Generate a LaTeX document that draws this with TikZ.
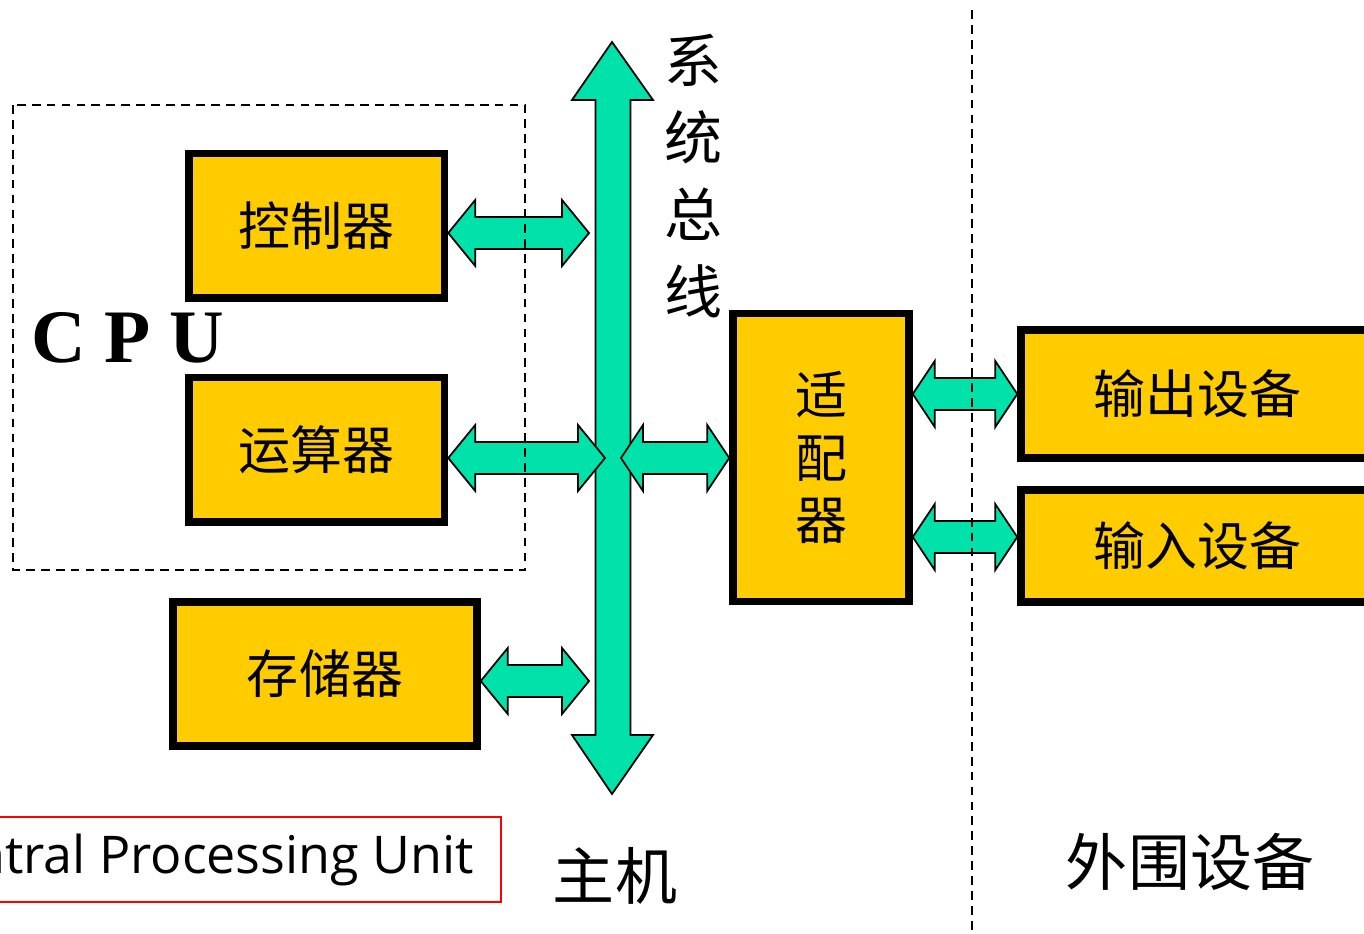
\documentclass[tikz,border=0pt]{standalone}
\usepackage{fontspec}
\newfontfamily\cjk{Noto Sans CJK SC}
\newfontfamily\tnr{Liberation Serif}
\newfontfamily\osans{Open Sans}
\usetikzlibrary{calc}
\definecolor{boxfill}{RGB}{255,204,0}
\definecolor{busgreen}{RGB}{0,226,170}
\newcommand{\dblarrow}[3]{%
  \filldraw[blockarrow] let \p1=(#1), \p2=(#2), \n1={#3*0.569}, \n2={33*0.569}, \n3={16*0.569} in
  (\x1,\y1) -- ({\x1+\n1},{\y1+\n2}) -- ({\x1+\n1},{\y1+\n3}) -- ({\x2-\n1},{\y1+\n3}) -- ({\x2-\n1},{\y1+\n2}) -- (\x2,\y1)
  -- ({\x2-\n1},{\y1-\n2}) -- ({\x2-\n1},{\y1-\n3}) -- ({\x1+\n1},{\y1-\n3}) -- ({\x1+\n1},{\y1-\n2}) -- cycle;}
\tikzset{
  box/.style={draw=black, fill=boxfill, line width=4.3pt, inner sep=0pt,
    font=\cjk\fontsize{29.6}{35.8}\selectfont},
  blockarrow/.style={fill=busgreen, draw=black, line width=1pt, line join=miter},
  dashedline/.style={draw=black, line width=0.85pt, dash pattern=on 5pt off 3.5pt},
  biglabel/.style={font=\cjk\fontsize{35.3}{40}\selectfont, inner sep=0pt},
  buslabel/.style={font=\cjk\fontsize{33}{43.8}\selectfont, inner sep=0pt, align=center}
}
\begin{document}
\begin{tikzpicture}[x=0.02cm, y=-0.02cm]
\useasboundingbox (0,0) rectangle (1364,933);
\clip (0,0) rectangle (1364,933);
\fill[white] (0,0) rectangle (1364,933);

% boxes
\node[box, minimum width=5.11cm, minimum height=2.89cm] (ctrl) at (316.75,225.75) {控制器};
\node[box, minimum width=5.11cm, minimum height=2.89cm] (alu) at (316.75,449.75) {运算器};
\node[box, minimum width=6.08cm, minimum height=2.88cm] (mem) at (325,674) {存储器};
\node[box, minimum width=3.52cm, minimum height=5.76cm, align=center] (adapter) at (821,457.5) {适\\配\\器};
\node[box, minimum width=7.04cm, minimum height=2.56cm] (out) at (1197,394) {输出设备};
\node[box, minimum width=7.04cm, minimum height=2.24cm] (in) at (1197,546) {输入设备};

% system bus
\coordinate (bustop) at (612,42);
\coordinate (busbot) at (612,794);
\filldraw[blockarrow] (bustop) -- (653,100) -- (630.5,100) -- (630.5,735) -- (653,735) -- (busbot)
  -- (572,735) -- (595.5,735) -- (595.5,100) -- (572,100) -- cycle;

% connectors
\coordinate (b1) at (589,233);
\coordinate (b2) at (605,458);
\coordinate (b3) at (589,681);
\coordinate (b4) at (621,458);
\coordinate (b6) at (960,537);
\dblarrow{ctrl.east |- b1}{b1}{27}
\dblarrow{alu.east |- b2}{b2}{27}
\dblarrow{mem.east |- b3}{b3}{27}
\dblarrow{b4}{adapter.west |- b4}{22}
\dblarrow{adapter.east |- out.west}{out.west}{22}
\dblarrow{adapter.east |- b6}{in.west |- b6}{22}

% dashed lines
\draw[dashedline] (13,105) rectangle (525,570);
\draw[dashedline] (972,10) -- (972,933);

% labels
\node[buslabel] (buslbl) at (693,176) {系\\统\\总\\线};
\node[font=\tnr\bfseries\fontsize{43}{50}\selectfont, inner sep=0pt] (cpu) at (128,338) {C P U};
\node[draw=red, line width=1.1pt, anchor=east, inner xsep=15.4pt, minimum height=1.7cm,
  font=\osans\fontsize{29.6}{34}\selectfont] (cpuname) at (502,859.5) {Central Processing Unit};
\node[biglabel] (host) at (615,876) {主机};
\node[biglabel] (periph) at (1190,862) {外围设备};
\end{tikzpicture}
\end{document}
